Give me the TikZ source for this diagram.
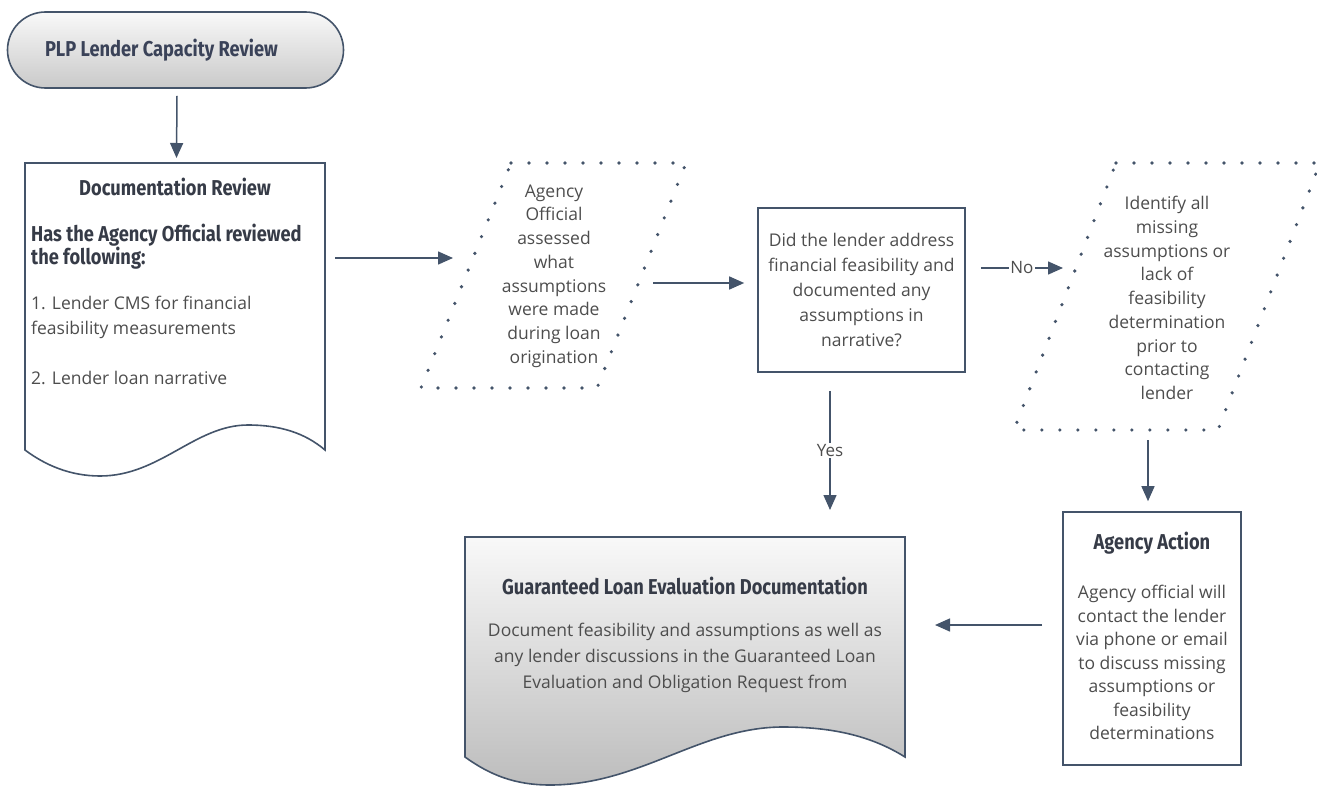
\documentclass[tikz,border=0pt]{standalone}
\usepackage{fontspec}
\setmainfont{Open Sans}
\newfontfamily\hfont[FakeStretch=0.85]{Fira Sans}
\usetikzlibrary{arrows.meta,calc}
\definecolor{edge}{HTML}{44546A}
\definecolor{bodytxt}{HTML}{4D4D4D}
\definecolor{headtxt}{HTML}{363B47}
\definecolor{termtxt}{HTML}{3A4258}
\tikzset{
  outline/.style={draw=edge, line width=1.6pt},
  hidden/.style={inner sep=0pt, outer sep=0pt},
  arr/.style={draw=edge, line width=1.5pt, -{Triangle[length=15pt,width=13pt]}},
  dots/.style={draw=edge, line width=3.6pt, line cap=round, dash pattern=on 0pt off 18pt},
  body/.style={text=bodytxt, align=center, inner sep=0pt},
  head/.style={font=\hfont\bfseries\fontsize{21.5}{24}\selectfont, text=headtxt, inner sep=0pt},
  lab/.style={font=\fontsize{17}{18}\selectfont, text=bodytxt, fill=white, inner sep=1.5pt},
}
\begin{document}
\begin{tikzpicture}[x=1pt,y=-1pt]
\useasboundingbox (0,0) rectangle (1317,787);

% start terminal
\node[outline, rounded corners=38pt, minimum width=336pt, minimum height=76pt, inner xsep=0pt,
      top color=gray!5, bottom color=gray!42,
      font=\hfont\bfseries\fontsize{21.5}{24}\selectfont, text=termtxt] (start) at (175.5,50)
      {\makebox[261pt][l]{PLP Lender Capacity Review}};

% documentation review (document shape)
\node[hidden, minimum width=300pt, minimum height=287pt] (doc1) at (175,306.5) {};
\draw[outline, fill=white] (doc1.north west) -- (doc1.north east) -- (doc1.south east)
  .. controls (305,433) and (280,425) .. (248,425)
  .. controls (195,425) and (160,476) .. (100,476)
  .. controls (70,476) and (45,465) .. (doc1.south west) -- cycle;
\node[head] (doc1t) at (175,187) {Documentation Review};
\node[head, align=left, anchor=west, font=\hfont\bfseries\fontsize{21.5}{23}\selectfont] (doc1q) at (31,246.5)
  {Has the Agency Official reviewed\\the following:};
\node[body, align=left, anchor=west, font=\fontsize{17.5}{25}\selectfont] (doc1a) at (31,317.5)
  {1. Lender CMS for financial\\feasibility measurements};
\node[body, align=left, anchor=west, font=\fontsize{17.5}{25}\selectfont] (doc1b) at (31,378)
  {2. Lender loan narrative};

% parallelogram 1
\node[hidden, minimum width=265pt, minimum height=225pt] (para1) at (553.5,275.5) {};
\draw[dots] (511,163) -- (686,163) -- (597,388) -- (421,388) -- cycle;
\node[body, font=\fontsize{17.5}{23.7}\selectfont] (para1t) at (554,276)
  {Agency\\Official\\assessed\\what\\assumptions\\were made\\during loan\\origination};

% decision box
\node[outline, minimum width=207pt, minimum height=164pt, body,
      font=\fontsize{17.5}{25}\selectfont] (dec) at (861.5,290)
  {Did the lender address\\financial feasibility and\\documented any\\assumptions in\\narrative?};

% parallelogram 2
\node[hidden, minimum width=306pt, minimum height=267pt] (para2) at (1167,296.5) {};
\draw[dots] (1116,163) -- (1320,163) -- (1218,430) -- (1014,430) -- cycle;
\node[body, font=\fontsize{17.5}{23.75}\selectfont] (para2t) at (1167,298)
  {Identify all\\missing\\assumptions or\\lack of\\feasibility\\determination\\prior to\\contacting\\lender};

% agency action box
\node[outline, minimum width=178pt, minimum height=253pt, fill=white] (act) at (1152,638.5) {};
\node[head] (actt) at (1152,543) {Agency Action};
\node[body, font=\fontsize{17.5}{23.5}\selectfont] (actb) at (1152,662.5)
  {Agency official will\\contact the lender\\via phone or email\\to discuss missing\\assumptions or\\feasibility\\determinations};

% guaranteed loan evaluation documentation (document shape)
\node[hidden, minimum width=440pt, minimum height=220pt] (doc2) at (685,647) {};
\shade[top color=gray!5, middle color=gray!20, bottom color=gray!52]
  (doc2.north west) -- (doc2.north east) -- (doc2.south east)
  .. controls (870,735) and (830,727) .. (783,727)
  .. controls (700,727) and (640,785) .. (550,785)
  .. controls (515,785) and (490,775) .. (doc2.south west) -- cycle;
\draw[outline]
  (doc2.north west) -- (doc2.north east) -- (doc2.south east)
  .. controls (870,735) and (830,727) .. (783,727)
  .. controls (700,727) and (640,785) .. (550,785)
  .. controls (515,785) and (490,775) .. (doc2.south west) -- cycle;
\node[head] (doc2t) at (685,586) {Guaranteed Loan Evaluation Documentation};
\node[body, font=\fontsize{17.5}{26}\selectfont] (doc2b) at (685,658)
  {Document feasibility and assumptions as well as\\any lender discussions in the Guaranteed Loan\\Evaluation and Obligation Request from};

% connectors
\draw[arr] ([shift={(1.5,7)}]start.south) -- ([shift={(1.5,-5)}]doc1.north);
\draw[arr] ([shift={(10,-48.5)}]doc1.east) -- ([shift={(32,-17.5)}]para1.west);
\draw[arr] ([shift={(-33,7.5)}]para1.east) -- ([shift={(-13,-7)}]dec.west);
\draw[arr] ([shift={(15,-22)}]dec.east) -- node[lab] {No} ([shift={(49,-28.5)}]para2.west);
\draw[arr] ([shift={(-31.5,18)}]dec.south) -- node[lab] {Yes} ([shift={(145,-27)}]doc2.north);
\draw[arr] ([shift={(-19,10)}]para2.south) -- ([shift={(-4,-10)}]act.north);
\draw[arr] ([shift={(-20,-13.5)}]act.west) -- ([shift={(30,-22)}]doc2.east);
\end{tikzpicture}
\end{document}
